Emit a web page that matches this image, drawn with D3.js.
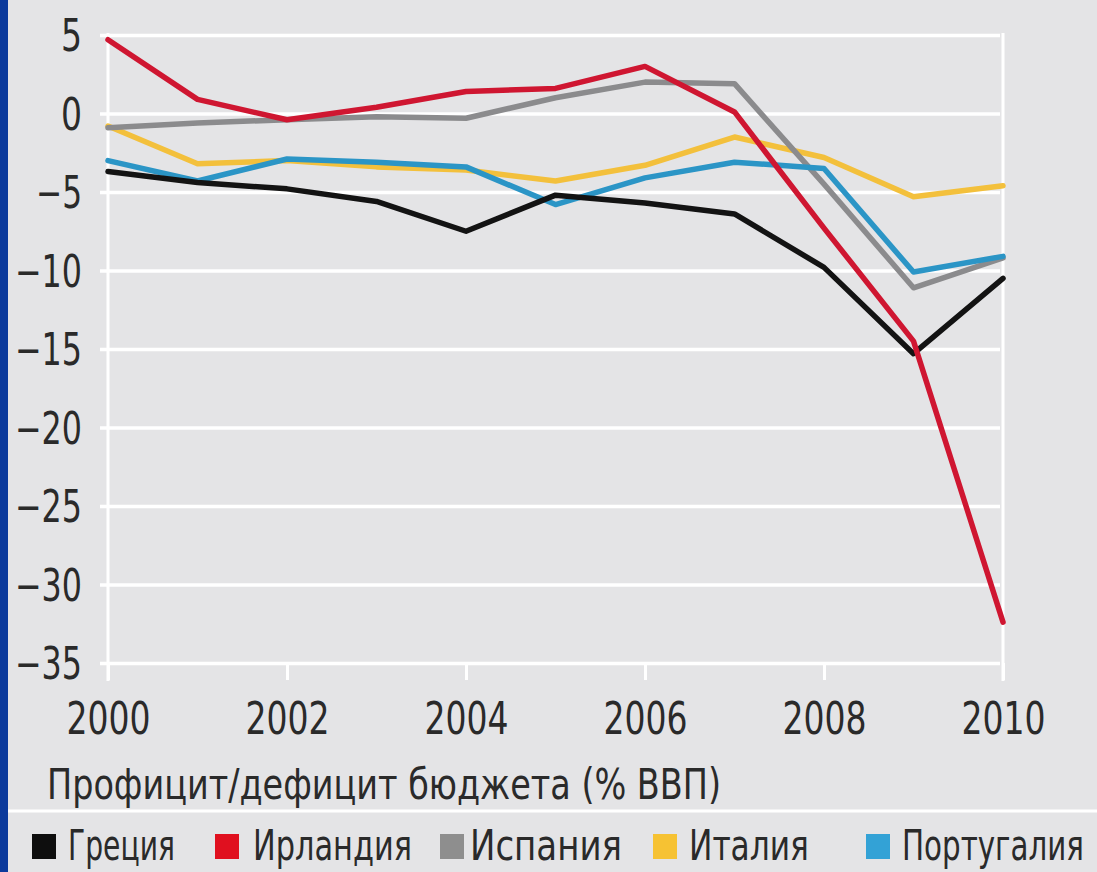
<!DOCTYPE html>
<html>
<head>
<meta charset="utf-8">
<script src="https://cdnjs.cloudflare.com/ajax/libs/d3/7.8.5/d3.min.js"></script>
<style>
  html, body { margin: 0; padding: 0; background: #e4e4e6; }
  svg { display: block; }
  .chart-text { font-family: "Liberation Sans Narrow", "DejaVu Sans Condensed", "Roboto", sans-serif; fill: #2a2a2a; }
</style>
</head>
<body>
<svg id="chart" width="1097" height="872"></svg>
<script>
// ----------
var years = [2000, 2001, 2002, 2003, 2004, 2005, 2006, 2007, 2008, 2009, 2010];
var yearTicks = [2000, 2002, 2004, 2006, 2008, 2010];
var valueTicks = [5, 0, -5, -10, -15, -20, -25, -30, -35];

var greece   = [-3.7, -4.4, -4.8, -5.6, -7.5, -5.2, -5.7, -6.4, -9.8, -15.3, -10.5];
var ireland  = [4.7, 0.9, -0.4, 0.4, 1.4, 1.6, 3.0, 0.1, -7.3, -14.5, -32.4];
var spain    = [-0.9, -0.6, -0.4, -0.2, -0.3, 1.0, 2.0, 1.9, -4.5, -11.1, -9.2];
var italy    = [-0.8, -3.2, -3.0, -3.4, -3.6, -4.3, -3.3, -1.5, -2.8, -5.3, -4.6];
var portugal = [-3.0, -4.3, -2.9, -3.1, -3.4, -5.8, -4.1, -3.1, -3.5, -10.1, -9.1];

var seriesNames = ['Греция', 'Ирландия', 'Испания', 'Италия', 'Португалия'];
var subtitle = 'Профицит/дефицит бюджета (% ВВП)';

(function() {

  var svg = d3.select('#chart');
  var width = 1097;
  var height = 872;

  // series in drawing order (bottom first), colours
  var series = [
    { name: seriesNames[3], values: italy, color: '#f3c03c', key: '#f6c233' },
    { name: seriesNames[2], values: spain, color: '#8b8b8d', key: '#8e8e8e' },
    { name: seriesNames[4], values: portugal, color: '#2b95c6', key: '#33a2d6' },
    { name: seriesNames[0], values: greece, color: '#131313', key: '#0e0e0e' },
    { name: seriesNames[1], values: ireland, color: '#cf1631', key: '#e0101f' }
  ];

  var x = d3.scaleLinear().domain([2000, 2010]).range([108, 1003]);
  var y = d3.scaleLinear().domain([5, -35]).range([35, 663]);

  // the source face is very condensed: squeeze labels to its widths
  var digitW = 21;
  var minusW = 25;
  var labelWidth = function(s) {
    var w = 0;
    for (var i = 0; i < s.length; i++) {
      w += (s[i] === '\u2212' || s[i] === '-') ? minusW : digitW;
    }
    return w;
  };

  // ----------
  // background + blue page border
  svg.append('rect')
    .attr('width', width)
    .attr('height', height)
    .attr('fill', '#e4e4e6');

  svg.append('rect')
    .attr('width', 8)
    .attr('height', height)
    .attr('fill', '#0b3a9c');

  // ----------
  // horizontal grid
  var grid = svg.append('g')
    .attr('transform', 'translate(100,0)')
    .call(d3.axisLeft(y).tickValues(valueTicks).tickSize(-900).tickFormat(''));
  grid.select('.domain').remove();
  grid.selectAll('.tick line')
    .attr('stroke', '#ffffff')
    .attr('stroke-width', 3.5);

  // vertical frame lines at 2000 and 2010
  svg.selectAll('.edge')
    .data([2000, 2010])
    .enter().append('line')
    .attr('class', 'edge')
    .attr('x1', function(d) { return x(d); })
    .attr('x2', function(d) { return x(d); })
    .attr('y1', y(5) - 2)
    .attr('y2', 681)
    .attr('stroke', '#ffffff')
    .attr('stroke-width', 3);

  // ----------
  // y axis labels
  var yAxis = svg.append('g')
    .attr('transform', 'translate(100,0)')
    .call(d3.axisLeft(y).tickValues(valueTicks).tickSize(0).tickPadding(18));
  yAxis.select('.domain').remove();
  yAxis.selectAll('text')
    .attr('class', 'chart-text')
    .attr('font-size', 44)
    .attr('dy', '0.36em')
    .attr('textLength', function() { return labelWidth(this.textContent); })
    .attr('lengthAdjust', 'spacingAndGlyphs');

  // x axis
  var xAxis = svg.append('g')
    .attr('transform', 'translate(0,' + y(-35) + ')')
    .call(d3.axisBottom(x).tickValues(yearTicks).tickSize(17).tickPadding(23).tickFormat(d3.format('d')));
  xAxis.select('.domain').remove();
  xAxis.selectAll('.tick line')
    .attr('stroke', '#ffffff')
    .attr('stroke-width', 3);
  xAxis.selectAll('text')
    .attr('class', 'chart-text')
    .attr('font-size', 44)
    .attr('textLength', function() { return labelWidth(this.textContent); })
    .attr('lengthAdjust', 'spacingAndGlyphs');

  // ----------
  // lines
  var line = d3.line()
    .x(function(d, i) { return x(years[i]); })
    .y(function(d) { return y(d); });

  svg.append('g')
    .selectAll('path')
    .data(series)
    .enter().append('path')
    .attr('d', function(d) { return line(d.values); })
    .attr('fill', 'none')
    .attr('stroke', function(d) { return d.color; })
    .attr('stroke-width', 5.5)
    .attr('stroke-linejoin', 'round')
    .attr('stroke-linecap', 'round');

  // ----------
  // subtitle + separator
  svg.append('text')
    .attr('class', 'chart-text')
    .attr('x', 47)
    .attr('y', 799)
    .attr('font-size', 43)
    .attr('textLength', 674)
    .attr('lengthAdjust', 'spacingAndGlyphs')
    .text(subtitle);

  svg.append('line')
    .attr('x1', 8)
    .attr('x2', width)
    .attr('y1', 811)
    .attr('y2', 811)
    .attr('stroke', '#ffffff')
    .attr('stroke-width', 3);

  // ----------
  // legend, in the order of the picture
  var legendOrder = [3, 4, 1, 0, 2];
  var legendPos = [
    { sq: 32, tx: 68, tw: 107 },
    { sq: 215, tx: 253, tw: 159 },
    { sq: 440, tx: 470, tw: 152 },
    { sq: 653, tx: 689, tw: 120 },
    { sq: 866, tx: 902, tw: 182 }
  ];

  var legend = svg.append('g')
    .selectAll('g')
    .data(legendOrder)
    .enter().append('g');

  legend.append('rect')
    .attr('x', function(d, i) { return legendPos[i].sq; })
    .attr('y', 834)
    .attr('width', 24)
    .attr('height', 25)
    .attr('fill', function(d) { return series[d].key; });

  // squeezed with a scale so the real box stays inside the page
  legend.append('text')
    .attr('class', 'chart-text')
    .attr('font-size', 42)
    .text(function(d) { return series[d].name; })
    .attr('transform', function(d, i) {
      var sx = legendPos[i].tw / this.getComputedTextLength();
      return 'translate(' + legendPos[i].tx + ',860) scale(' + sx + ',1)';
    });

})();
</script>
</body>
</html>
